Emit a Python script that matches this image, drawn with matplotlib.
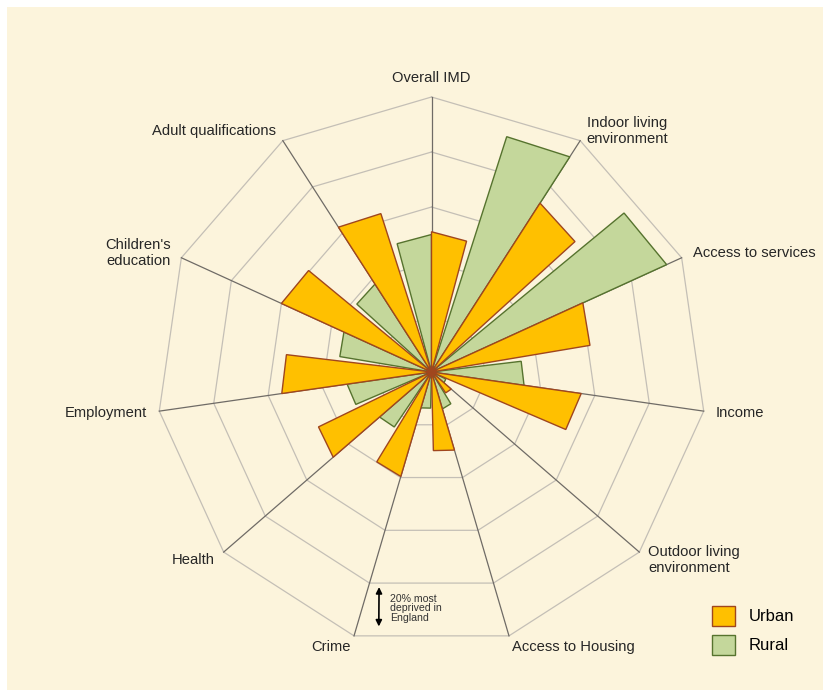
import numpy as np
import matplotlib
matplotlib.use('Agg')
import matplotlib.pyplot as plt
from matplotlib.patches import Patch, Rectangle

plt.rcParams['font.family'] = ['Liberation Sans', 'DejaVu Sans']

# categories clockwise from the top
categories = ['Overall IMD', 'Indoor living\nenvironment', 'Access to services', 'Income',
              'Outdoor living\nenvironment', 'Access to Housing', 'Crime', 'Health',
              'Employment', "Children's\neducation", 'Adult qualifications']
# share of the outer ring (100 = edge of the 20% most deprived band)
urban = [51, 73, 60.5, 55, 9.5, 29.6, 39.6, 47.3, 55, 60, 62.6]
rural = [50, 93, 94, 34, 6, 14, 13.6, 25, 31, 35, 38]
rings = [20, 40, 60, 80, 100]

BG = '#fcf4dc'
ORANGE, ORANGE_EDGE = '#ffc000', '#a0461e'
GREEN, GREEN_EDGE = '#c4d79b', '#56732e'

W, H = 823, 690
cx, cy = 431.5, 372          # centre in pixels
R_AX = 300                   # axes radius in pixels
R_OUT = 275                  # pixel radius of ring 100

fig = plt.figure(figsize=(W / 100, H / 100), dpi=100, facecolor='white')
fig.patches.append(Rectangle((7 / W, 0), 1, 1 - 7 / H, transform=fig.transFigure,
                             facecolor=BG, edgecolor='none', zorder=-10))

ax = fig.add_axes([(cx - R_AX) / W, (H - cy - R_AX) / H, 2 * R_AX / W, 2 * R_AX / H],
                  projection='polar')
ax.set_theta_zero_location('N')
ax.set_theta_direction(-1)
ax.set_ylim(0, 100 * R_AX / R_OUT)
ax.patch.set_alpha(0)
ax.grid(False)
ax.set_xticks([])
ax.set_yticks([])
ax.spines['polar'].set_visible(False)

n = len(categories)
theta = np.arange(n) * 2 * np.pi / n
closed = np.append(theta, theta[0])

# polygonal grid
for r in rings:
    ax.plot(closed, [r] * (n + 1), color='#c4bfb6', lw=0.9, zorder=1)
for t in theta:
    ax.plot([t, t], [0, rings[-1]], color='#6f6b66', lw=0.9, zorder=1)

# wedges: rural on the anticlockwise side of each spoke, urban on the clockwise side
w = np.deg2rad(15)
for t, v in zip(theta, rural):
    ax.fill([t, t, t - w], [0, v, v * np.cos(w)], facecolor=GREEN,
            edgecolor=GREEN_EDGE, lw=1.0, zorder=2)
for t, v in zip(theta, urban):
    ax.fill([t, t, t + w], [0, v, v * np.cos(w)], facecolor=ORANGE,
            edgecolor=ORANGE_EDGE, lw=1.0, zorder=3)

# category labels, pushed out from the spoke ends
for t, lab in zip(theta, categories):
    s, c = np.sin(t), np.cos(t)
    ha = 'left' if s > 0.05 else ('right' if s < -0.05 else 'center')
    va = 'bottom' if abs(s) < 0.05 else 'center'
    ax.annotate(lab, xy=(t, rings[-1]), xytext=(8.6 * s, 8.6 * c),
                textcoords='offset points', ha=ha, va=va,
                fontsize=10.6, color='#262626')

# band note
ax.annotate('', xy=(np.deg2rad(191.7), 94.5), xytext=(np.deg2rad(193.7), 80.5),
            arrowprops=dict(arrowstyle='<|-|>', color='black', lw=1.2,
                            mutation_scale=9, shrinkA=0, shrinkB=0))
ax.text(np.deg2rad(190.0), 87.2, '20% most\ndeprived in\nEngland', ha='left', va='center',
        fontsize=7.6, color='#333333', linespacing=0.95)

handles = [Patch(facecolor=ORANGE, edgecolor=ORANGE_EDGE, lw=1.0, label='Urban'),
           Patch(facecolor=GREEN, edgecolor=GREEN_EDGE, lw=1.0, label='Rural')]
fig.legend(handles=handles, loc='upper left', bbox_to_anchor=(712 / W, 1 - 606 / H),
           frameon=False, fontsize=12, handlelength=1.4, handleheight=1.45,
           handletextpad=0.8, labelspacing=0.55, borderpad=0, borderaxespad=0)

fig.savefig('out.png', dpi=100, facecolor=fig.get_facecolor())
